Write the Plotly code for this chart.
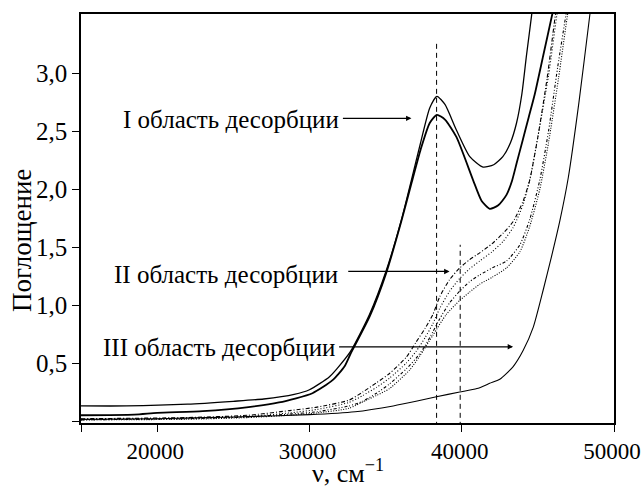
import plotly.graph_objects as go

# ---- data ----
# Curve I-a (outer solid curve, higher peak)
a_x = [15000, 18000, 22000, 25000, 27000, 29000, 30000, 31300, 31800, 32700, 33950, 35050, 36030,
       36700, 37300, 37900, 38375, 38900, 39650, 40530, 41400, 42100, 42700, 43200, 43600, 43950, 44250, 44600, 44850]
a_y = [0.13, 0.13, 0.145, 0.17, 0.19, 0.23, 0.27, 0.38, 0.45, 0.60, 0.92, 1.30, 1.73,
       2.08, 2.40, 2.70, 2.80, 2.73, 2.51, 2.28, 2.19, 2.21, 2.28, 2.40, 2.57, 2.82, 3.15, 3.51, 3.8]

# Curve I-b (inner solid curve, lower peak)
b_x = [15000, 18500, 20000, 23000, 26000, 28000, 30200, 31500, 32300, 32700, 33950, 35050, 36030,
       36700, 37300, 37900, 38375, 38900, 39650, 40740, 41300, 41840, 42400, 42940, 43300, 43600, 44000,
       44400, 44800, 45350, 45950, 46250]
b_y = [0.05, 0.055, 0.07, 0.085, 0.12, 0.16, 0.24, 0.35, 0.47, 0.58, 0.90, 1.28, 1.72,
       2.05, 2.34, 2.57, 2.64, 2.60, 2.45, 2.08, 1.90, 1.83, 1.86, 1.95, 2.07, 2.22, 2.42,
       2.62, 2.82, 3.15, 3.51, 3.7]

# Curves of region II (four broken-line curves)
c_x = [15000, 22000, 26000, 28700, 30500, 32600, 33500, 34400, 35260, 36360, 37000, 37600, 38110, 38550,
       39210, 39870, 40500, 41180, 42000, 42720, 43380, 44040, 44470, 45000, 45600, 46200, 46500]
c_y = [0.02, 0.03, 0.05, 0.09, 0.12, 0.18, 0.25, 0.33, 0.41, 0.55, 0.68, 0.80, 0.92, 1.07,
       1.22, 1.32, 1.39, 1.45, 1.53, 1.62, 1.72, 1.90, 2.08, 2.45, 2.95, 3.55, 3.8]

d_x = [15000, 22000, 26000, 28700, 30500, 32600, 33500, 34400, 35260, 36360, 37000, 37600, 38110, 38550,
       39210, 39870, 40500, 41180, 42000, 42720, 43380, 44040, 44500, 45000, 45700, 46300, 46600]
d_y = [0.015, 0.025, 0.04, 0.07, 0.10, 0.16, 0.22, 0.29, 0.37, 0.50, 0.60, 0.72, 0.84, 0.97,
       1.12, 1.23, 1.31, 1.38, 1.46, 1.55, 1.67, 1.87, 2.10, 2.45, 2.98, 3.55, 3.8]

e_x = [15000, 22000, 26000, 28700, 30500, 32600, 33500, 34400, 35260, 36360, 37000, 37600, 38110, 38550,
       39210, 39870, 40500, 41180, 42000, 42940, 43820, 44470, 45130, 45700, 46300, 46900, 47200]
e_y = [0.01, 0.02, 0.035, 0.06, 0.08, 0.13, 0.17, 0.24, 0.32, 0.45, 0.54, 0.65, 0.77, 0.88,
       1.02, 1.12, 1.20, 1.26, 1.32, 1.38, 1.52, 1.74, 2.08, 2.50, 3.05, 3.55, 3.8]

f_x = [15000, 22000, 26000, 28700, 30500, 32600, 33730, 34400, 35260, 36580, 37240, 38110, 38990, 39870,
       40500, 41180, 42000, 42940, 43820, 44470, 45130, 45700, 46350, 47000, 47300]
f_y = [0.01, 0.015, 0.03, 0.05, 0.07, 0.11, 0.18, 0.22, 0.28, 0.44, 0.56, 0.74, 0.92, 1.04,
       1.11, 1.18, 1.24, 1.32, 1.46, 1.68, 2.00, 2.40, 2.95, 3.55, 3.8]

# Curve of region III (thin solid)
g_x = [15000, 20000, 25000, 30000, 33000, 35500, 37000, 38340, 39870, 41000, 41840, 42500, 43380, 44040,
       44700, 45350, 45900, 46450, 47000, 47700, 48420, 48700]
g_y = [0.014, 0.02, 0.035, 0.055, 0.08, 0.13, 0.17, 0.21, 0.25, 0.28, 0.325, 0.36, 0.47, 0.61,
       0.81, 1.13, 1.42, 1.73, 2.10, 2.75, 3.51, 3.8]

# Vertical reference lines (position, top value)
vline_x = [38350, 39900]
vline_top = [3.27, 1.52]

# Labels
labels = ["I область десорбции", "II область десорбции", "III область десорбции"]
label_x = [32050, 32000, 31800]
label_y = [2.60, 1.26, 0.63]
arrow_tail_x = [32100, 32450, 31850]
arrow_head_x = [36700, 39200, 43375]
arrow_y = [2.61, 1.29, 0.64]

x_ticks = [15000, 20000, 30000, 40000, 50000]
x_ticktext = ["", "20000", "30000", "40000", "50000"]
y_ticks = [0, 0.5, 1.0, 1.5, 2.0, 2.5, 3.0]
y_ticktext = ["", "0,5", "1,0", "1,5", "2,0", "2,5", "3,0"]

FONT = "Liberation Serif"

fig = go.Figure()

def add(x, y, width, dash):
    fig.add_trace(go.Scatter(x=x, y=y, mode="lines",
                             line=dict(color="black", width=width, dash=dash, shape="spline", smoothing=0.6),
                             showlegend=False, hoverinfo="skip"))

add(a_x, a_y, 1.3, "solid")
add(b_x, b_y, 1.8, "solid")
add(c_x, c_y, 1.1, "4px,2px,1px,2px")
add(d_x, d_y, 1.1, "1px,2px")
add(e_x, e_y, 1.1, "3px,2px,1px,2px,1px,2px")
add(f_x, f_y, 1.1, "1px,1.5px")
add(g_x, g_y, 1.1, "solid")

for vx, vt in zip(vline_x, vline_top):
    fig.add_trace(go.Scatter(x=[vx, vx], y=[-0.05, vt], mode="lines",
                             line=dict(color="black", width=1, dash="5px,4px"),
                             showlegend=False, hoverinfo="skip"))

for t, lx, ly in zip(labels, label_x, label_y):
    fig.add_annotation(x=lx, y=ly, text=t, showarrow=False, xanchor="right", yanchor="middle",
                       font=dict(family=FONT, size=25, color="black"))

for tx, hx, ay in zip(arrow_tail_x, arrow_head_x, arrow_y):
    fig.add_annotation(x=hx, y=ay, ax=tx, ay=ay, axref="x", ayref="y", xref="x", yref="y",
                       text="", showarrow=True, arrowhead=2, arrowsize=0.9, arrowwidth=1.2,
                       arrowcolor="black", standoff=0, startstandoff=0)

# axis titles
fig.add_annotation(x=0.5, y=-0.164, xref="paper", yref="paper", text="ν, см<sup>−1</sup>",
                   showarrow=False, xanchor="center", yanchor="bottom",
                   font=dict(family=FONT, size=26, color="black"))
fig.add_annotation(x=-0.111, y=0.447, xref="paper", yref="paper", text="Поглощение", textangle=-90,
                   showarrow=False, xanchor="center", yanchor="middle",
                   font=dict(family=FONT, size=27, color="black"))

fig.update_layout(
    width=641, height=491,
    margin=dict(l=81, r=27, t=14, b=68, autoexpand=False),
    paper_bgcolor="white", plot_bgcolor="white",
    font=dict(family=FONT, size=23, color="black"),
)
fig.update_xaxes(range=[15000, 50000], tickvals=x_ticks, ticktext=x_ticktext, automargin=False,
                 ticklabeloverflow="allow", ticklabelshift=-2, tickfont=dict(size=23),
                 showgrid=False, zeroline=False, showline=True, linecolor="black", linewidth=1.5,
                 mirror=True, ticks="outside", ticklen=7, tickwidth=1, tickcolor="black")
fig.update_yaxes(range=[-0.017, 3.51], tickvals=y_ticks, ticktext=y_ticktext, automargin=False,
                 ticklabeloverflow="allow", tickfont=dict(size=25),
                 showgrid=False, zeroline=False, showline=True, linecolor="black", linewidth=1.5,
                 mirror=True, ticks="outside", ticklen=7, tickwidth=1, tickcolor="black")

fig.write_html("out.html")
